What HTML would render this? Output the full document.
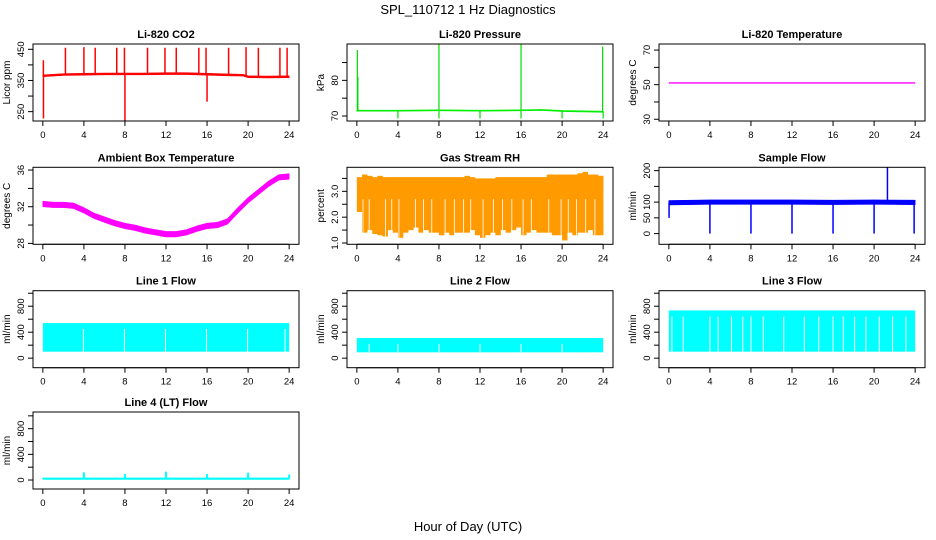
<!DOCTYPE html>
<html><head><meta charset="utf-8"><style>
body{margin:0;background:#fff;}
svg{display:block;font-family:"Liberation Sans",Arial,sans-serif;}
</style></head><body>
<svg id="chart" width="936" height="540" viewBox="0 0 936 540">
<text x="468" y="14" font-size="13" text-anchor="middle">SPL_110712  1 Hz Diagnostics</text>
<text x="468" y="531" font-size="13" text-anchor="middle">Hour of Day (UTC)</text>
<g id="plots"></g>
</svg>
<script>
// ---- data ----
const xTicks = [0,4,8,12,16,20,24];
const co2BaseHours = [0,1,2,4,6,8,10,12,14,16,18,19.5,20,22,24];
const co2BaseVals = [365,367,369,370,371,371,371,372,372,370,368,367,362,361,362];
const co2SpikeHours = [0.05,0.06,2.2,4.0,5.1,7.2,7.95,10.2,11.9,13.0,15.2,15.9,18.1,19.8,21.0,23.1,23.8,8.0,16.0];
const co2SpikeVals = [415,228,455,457,455,455,455,455,455,455,455,455,455,457,455,455,455,220,282];
const presBaseHours = [0,4,8,12,16,18,20,24];
const presBaseVals = [71.5,71.5,71.6,71.5,71.6,71.7,71.4,71.2];
const presSpikeHours = [0.05,0.1,8.0,16.0,23.95,4.0,8.0,12.0,16.0,20.0,24.0];
const presSpikeVals = [88.5,81,90.2,90.2,89.5,69.3,69.3,69.3,69.3,69.3,69.3];
const tempHours = [0,24];
const tempVals = [51,51];
const ambHours = [0,1,2,3,4,5,6,7,8,9,10,11,12,13,14,15,16,17,18,19,20,21,22,23,24];
const ambVals = [32.3,32.2,32.2,32.1,31.6,31.0,30.6,30.2,29.9,29.7,29.4,29.2,29.0,29.0,29.2,29.6,29.9,30.0,30.4,31.6,32.7,33.6,34.5,35.2,35.3];
const rhBot = [2.2,1.4,1.5,1.35,1.3,1.25,1.5,1.4,1.2,1.4,1.5,1.6,1.4,1.5,1.4,1.4,1.3,1.4,1.3,1.4,1.4,1.4,1.5,1.3,1.2,1.3,1.4,1.3,1.5,1.4,1.5,1.6,1.3,1.4,1.5,1.4,1.4,1.4,1.3,1.3,1.1,1.4,1.3,1.4,1.4,1.5,1.3,1.3];
const rhTop = [3.55,3.65,3.6,3.55,3.6,3.55,3.55,3.55,3.55,3.55,3.55,3.55,3.55,3.55,3.55,3.55,3.55,3.55,3.55,3.55,3.55,3.6,3.55,3.5,3.5,3.5,3.5,3.55,3.55,3.55,3.55,3.55,3.55,3.55,3.55,3.55,3.55,3.65,3.65,3.65,3.65,3.65,3.65,3.7,3.75,3.65,3.65,3.6];
const rhGaps = [0.6,1.2,2.8,3.4,4.1,5.7,6.5,7.3,8.6,9.5,10.4,11.1,12.3,13.3,14.2,15.1,16.2,17.0,18.7,19.9,20.6,21.4,22.3,23.2];
const flowBaseHours = [0,4,8,12,16,20,24];
const flowBaseVals = [98,100,100,100,99,100,99];
const flowSpikeHours = [0.02,4.0,8.0,12.0,16.0,20.0,23.9,21.3];
const flowSpikeVals = [50,0,0,0,0,0,0,210];
const line1Top = 540, line1Bot = 100;
const line1Gaps = [3.95,7.95,11.95,15.95,19.95,23.6];
const line2Top = 310, line2Bot = 90;
const line2Gaps = [1.2,4.0,8.0,12.0,16.0,20.0];
const line3Top = 735, line3Bot = 100;
const line3Gaps = [0.3,1.4,4.0,4.8,6.1,7.2,8.0,9.2,11.2,13.2,14.6,16.0,17.0,18.1,19.2,20.5,21.8,23.1];
const line4Base = 20;
const line4SpikeHours = [4.0,8.0,12.0,16.0,20.0,24.0];
const line4SpikeVals = [120,95,130,95,115,85];

// ---- layout ----
const svg = document.getElementById('plots');
const NS = 'http://www.w3.org/2000/svg';
const colL = [33,347,659], rowT = [44,167.3,290.7,412], BW = 266, BH = 77;
function mk(tag, attrs, parent){const e=document.createElementNS(NS,tag);for(const k in attrs)e.setAttribute(k,attrs[k]);(parent||svg).appendChild(e);return e;}
function panel(name, r, c, title, ylab, ymin, ymax, yticks, ylabels){
  const L=colL[c], T=rowT[r];
  const g=mk('g',{});
  
  
  const x0=L+BW*0.04/1.08, x1=L+BW-BW*0.04/1.08;
  const sx=h=>x0+(x1-x0)*h/24;
  const sy=v=>T+BH-(v-ymin)/(ymax-ymin)*BH;
  const t=mk('text',{x:L+BW/2,y:T-6,'font-size':11,'font-weight':'bold','text-anchor':'middle'},g);
  t.textContent=title;
  
  
  const plot=mk('g',{},g);
  
  
  const box=mk('rect',{x:L,y:T,width:BW,height:BH,fill:'none',stroke:'#000','stroke-width':1},g);
  
  
  const xa=mk('g',{},g);
  
  
  mk('line',{x1:sx(0),x2:sx(24),y1:T+BH,y2:T+BH,stroke:'#000'},xa);
  xTicks.forEach(v=>{
    mk('line',{x1:sx(v),x2:sx(v),y1:T+BH,y2:T+BH+5,stroke:'#000'},xa);
    const tx=mk('text',{x:sx(v),y:T+BH+17,'font-size':9.5,'text-anchor':'middle'},xa);
    tx.textContent=v;
    
    
  });
  const ya=mk('g',{},g);
  
  
  mk('line',{x1:L,x2:L,y1:sy(yticks[0]),y2:sy(yticks[yticks.length-1]),stroke:'#000'},ya);
  yticks.forEach(v=>{mk('line',{x1:L-5,x2:L,y1:sy(v),y2:sy(v),stroke:'#000'},ya);});
  ylabels.forEach(v=>{
    const tx=mk('text',{x:L-9,y:sy(v),'font-size':9.5,'text-anchor':'middle',transform:`rotate(-90 ${L-9} ${sy(v)})`},ya);
    tx.textContent=v;
    
    
  });
  const yl=mk('text',{x:L-23,y:T+BH/2,'font-size':10,'text-anchor':'middle',transform:`rotate(-90 ${L-23} ${T+BH/2})`},g);
  yl.textContent=ylab;
  
  
  return {sx,sy,plot};
}
function band(p,hours,vals,half,color,name){
  let up=hours.map((h,i)=>p.sx(h)+','+p.sy(vals[i]+half));
  let dn=hours.map((h,i)=>p.sx(h)+','+p.sy(vals[i]-half)).reverse();
  const e=mk('polygon',{points:up.concat(dn).join(' '),fill:color,stroke:color,'stroke-width':0.6},p.plot);
  
  
}
function spikes(p,hours,vals,baseFn,color,w,name){
  hours.forEach((h,i)=>{
    const e=mk('line',{x1:p.sx(h),x2:p.sx(h),y1:p.sy(baseFn(h)),y2:p.sy(vals[i]),stroke:color,'stroke-width':w},p.plot);
    
    
  });
}
function interp(hs,vs){return h=>{for(let i=1;i<hs.length;i++){if(h<=hs[i]){const f=(h-hs[i-1])/(hs[i]-hs[i-1]);return vs[i-1]+f*(vs[i]-vs[i-1]);}}return vs[vs.length-1];};}
function flowRect(p,top,bot,gaps,color,name){
  const e=mk('rect',{x:p.sx(0),y:p.sy(top),width:p.sx(24)-p.sx(0),height:p.sy(bot)-p.sy(top),fill:color},p.plot);
  
  
  gaps.forEach(h=>{
    const gl=mk('line',{x1:p.sx(h),x2:p.sx(h),y1:p.sy(top)+6,y2:p.sy(bot),stroke:'#fff','stroke-width':1},p.plot);
    
    
  });
}

// CO2
let p=panel('co2',0,0,'Li-820 CO2','Licor ppm',220,467,[250,300,350,400,450],[250,350,450]);
band(p,co2BaseHours,co2BaseVals,3,'#ff0000','co2-line');
spikes(p,co2SpikeHours,co2SpikeVals,interp(co2BaseHours,co2BaseVals),'#ff0000',1.5,'co2-spike');
// Pressure
p=panel('pressure',0,1,'Li-820 Pressure','kPa',68.6,90.2,[70,75,80,85],[70,80]);
band(p,presBaseHours,presBaseVals,0.15,'#00ee00','pressure-line');
spikes(p,presSpikeHours,presSpikeVals,interp(presBaseHours,presBaseVals),'#00dd00',1.2,'pressure-spike');
// Temperature
p=panel('li820-temp',0,2,'Li-820 Temperature','degrees C',29,73.5,[30,40,50,60,70],[30,50,70]);
{const e=mk('line',{x1:p.sx(tempHours[0]),x2:p.sx(tempHours[1]),y1:p.sy(tempVals[0]),y2:p.sy(tempVals[1]),stroke:'#ff00ff','stroke-width':1.3},p.plot);

}
// Ambient
p=panel('ambient',1,0,'Ambient Box Temperature','degrees C',27.9,36.3,[28,30,32,34,36],[28,32,36]);
band(p,ambHours,ambVals,0.3,'#ff00ff','ambient-line');
// RH
p=panel('rh',1,1,'Gas Stream RH','percent',0.95,3.93,[1.0,1.5,2.0,2.5,3.0,3.5],['1.0','2.0','3.0']);
rhBot.forEach((b,i)=>{
  const h0=i*0.5;
  const e=mk('rect',{x:p.sx(h0),y:p.sy(rhTop[i]),width:p.sx(0.5)-p.sx(0)+0.3,height:p.sy(b)-p.sy(rhTop[i]),fill:'#ff9a00'},p.plot);
  
  
});
rhGaps.forEach(h=>{
  const e=mk('line',{x1:p.sx(h),x2:p.sx(h),y1:p.sy(2.7),y2:p.sy(1.0),stroke:'#fff','stroke-width':0.8},p.plot);
  
  
});
// Sample Flow
p=panel('sample-flow',1,2,'Sample Flow','ml/min',-34,210.6,[0,50,100,150,200],[0,50,100,200]);
band(p,flowBaseHours,flowBaseVals,7,'#0000ff','sample-flow-line');
spikes(p,flowSpikeHours,flowSpikeVals,interp(flowBaseHours,flowBaseVals),'#0000ff',1.5,'sample-flow-spike');
// Line flows
const ft=[0,200,400,600,800,1000], fl=[0,400,800];
p=panel('line1-flow',2,0,'Line 1 Flow','ml/min',-147,1039,ft,fl);
flowRect(p,line1Top,line1Bot,line1Gaps,'#00ffff','line1-flow-band');
p=panel('line2-flow',2,1,'Line 2 Flow','ml/min',-147,1039,ft,fl);
flowRect(p,line2Top,line2Bot,line2Gaps,'#00ffff','line2-flow-band');
p=panel('line3-flow',2,2,'Line 3 Flow','ml/min',-147,1039,ft,fl);
flowRect(p,line3Top,line3Bot,line3Gaps,'#00ffff','line3-flow-band');
p=panel('line4-flow',3,0,'Line 4 (LT) Flow','ml/min',-140,1060,ft,fl);
band(p,[0,24],[line4Base,line4Base],12,'#00ffff','line4-flow-line');
spikes(p,line4SpikeHours,line4SpikeVals,()=>line4Base,'#00ffff',2,'line4-flow-spike');
</script>
</body></html>
